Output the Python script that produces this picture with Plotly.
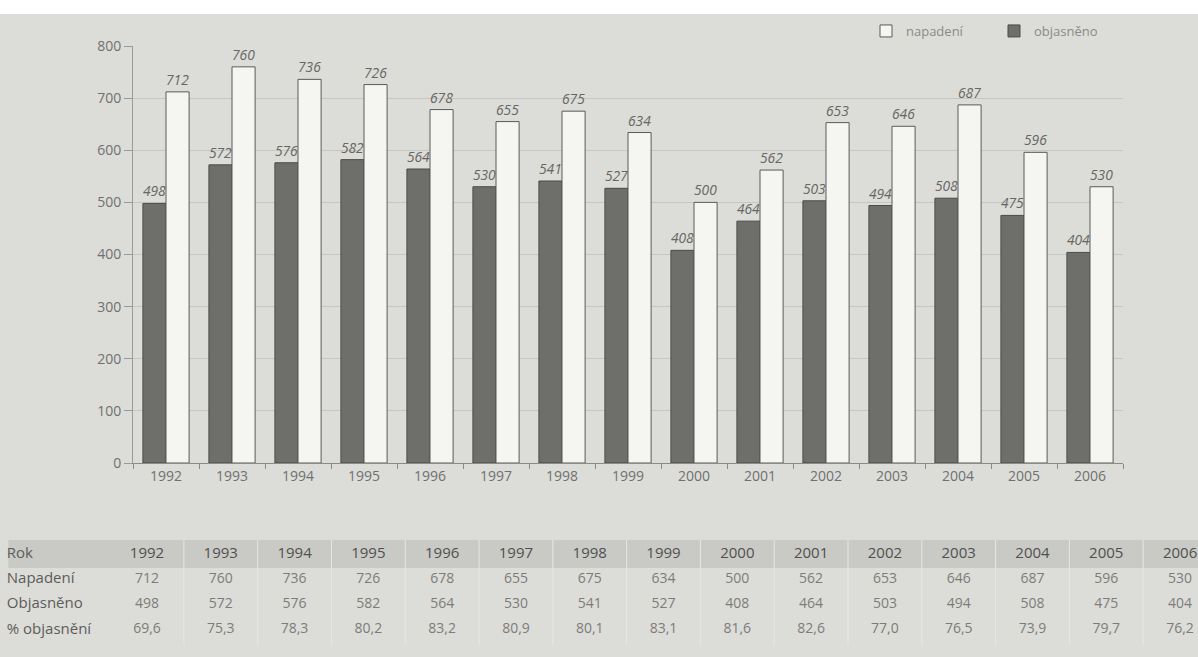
import plotly.graph_objects as go

years = [1992, 1993, 1994, 1995, 1996, 1997, 1998, 1999, 2000, 2001, 2002, 2003, 2004, 2005, 2006]
napadeni = [712, 760, 736, 726, 678, 655, 675, 634, 500, 562, 653, 646, 687, 596, 530]
objasneno = [498, 572, 576, 582, 564, 530, 541, 527, 408, 464, 503, 494, 508, 475, 404]
pct_objasneni = [69.6, 75.3, 78.3, 80.2, 83.2, 80.9, 80.1, 83.1, 81.6, 82.6, 77.0, 76.5, 73.9, 79.7, 76.2]
row_labels = ["Rok", "Napadení", "Objasněno", "% objasnění"]
y_ticks = [0, 100, 200, 300, 400, 500, 600, 700, 800]

W, H = 1198, 657
FONT = "Open Sans"
TXT = "#707070"

cats = [str(y) for y in years]

fig = go.Figure()
fig.add_trace(go.Bar(
    x=cats, y=objasneno, name="objasněno",
    marker=dict(color="#6e6e6b", line=dict(color="#4a4a48", width=1)),
    text=[str(v) for v in objasneno], textposition="outside",
    textfont=dict(family=FONT, size=14, color="#666664", style="italic"),
    cliponaxis=False,
))
fig.add_trace(go.Bar(
    x=cats, y=napadeni, name="napadení",
    marker=dict(color="#f5f6f2", line=dict(color="#5a5a58", width=1)),
    text=[str(v) for v in napadeni], textposition="outside",
    textfont=dict(family=FONT, size=14, color="#666664", style="italic"),
    cliponaxis=False,
))

def fmt(v):
    return ("%.1f" % v).replace(".", ",")

table_rows = [
    [str(y) for y in years],
    [str(v) for v in napadeni],
    [str(v) for v in objasneno],
    [fmt(v) for v in pct_objasneni],
]
for r, row in enumerate(table_rows):
    fig.add_trace(go.Scatter(
        x=years, y=[r] * len(years), mode="text", text=row,
        textfont=dict(family=FONT, size=15 if r == 0 else 14,
                      color="#505050" if r == 0 else "#7c7c7a"),
        xaxis="x2", yaxis="y2", showlegend=False, hoverinfo="skip",
        cliponaxis=False,
    ))
fig.add_trace(go.Scatter(
    x=[1990.1] * len(row_labels), y=list(range(len(row_labels))), mode="text",
    text=row_labels, textposition="middle right",
    textfont=dict(family=FONT, size=15, color="#5c5c5a"),
    xaxis="x2", yaxis="y2", showlegend=False, hoverinfo="skip", cliponaxis=False,
))

shapes = [
    dict(type="rect", xref="paper", yref="paper", x0=0, x1=1, y0=(H - 14) / H, y1=1,
         fillcolor="#ffffff", line=dict(width=0), layer="below"),
    dict(type="rect", xref="x2", yref="y2", x0=1990.12, x1=2006.3, y0=-0.553, y1=0.553,
         fillcolor="#c9cac5", line=dict(width=0), layer="below"),
]
for y in years[:-1]:
    shapes.append(dict(type="line", xref="x2", yref="y2", x0=y + 0.5, x1=y + 0.5,
                       y0=-0.553, y1=3.6, line=dict(color="#e6e7e3", width=1), layer="below"))

fig.update_layout(
    width=W, height=H,
    margin=dict(l=0, r=0, t=0, b=0, autoexpand=False),
    paper_bgcolor="#dcddd8",
    plot_bgcolor="#dcddd8",
    font=dict(family=FONT, size=14, color=TXT),
    barmode="group", bargap=0.3, bargroupgap=0.0,
    showlegend=True,
    legend=dict(orientation="h", traceorder="reversed", x=866 / W, xanchor="left",
                y=(H - 16) / H, yanchor="top", bgcolor="rgba(0,0,0,0)",
                font=dict(family=FONT, size=13, color="#8a8a88"),
                itemwidth=30, entrywidth=83),
    xaxis=dict(domain=[133 / W, 1123 / W], type="category",
               showline=True, linecolor="#8a8a88", linewidth=1,
               ticks="outside", tickson="boundaries", ticklen=5, tickcolor="#8a8a88",
               tickfont=dict(family=FONT, size=14, color=TXT), showgrid=False,
               anchor="y"),
    yaxis=dict(domain=[(H - 463) / H, (H - 46) / H], range=[0, 800],
               tickvals=y_ticks, showline=True, linecolor="#9a9a98", linewidth=1,
               ticks="outside", ticklen=8, tickcolor="#9a9a98",
               tickfont=dict(family=FONT, size=14, color=TXT),
               showgrid=True, gridcolor="#c6c7c2", gridwidth=1, zeroline=False,
               anchor="x"),
    xaxis2=dict(domain=[0, 1], range=[1990.008, 2006.243], visible=False,
                anchor="y2", fixedrange=True),
    yaxis2=dict(domain=[(H - 650) / H, (H - 540) / H], range=[3.79, -0.553],
                visible=False, anchor="x2", fixedrange=True),
    shapes=shapes,
)

fig.write_html("out.html", config={"displayModeBar": False},
               post_script="document.body.style.margin='0';document.body.style.overflow='hidden';")
